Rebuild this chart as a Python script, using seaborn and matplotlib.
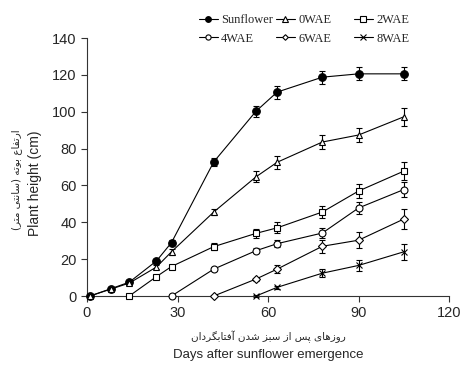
import numpy as np
import pandas as pd
import matplotlib
matplotlib.use("Agg")
import matplotlib.pyplot as plt
from matplotlib.lines import Line2D
import seaborn as sns

# ---------------- data ----------------
days = [1, 8, 14, 23, 28, 42, 56, 63, 78, 90, 105]

sunflower = [0, 4, 7.5, 19, 29, 72.8, 100.3, 110.7, 118.8, 120.6, 120.6]
sunflower_err = [0.5, 0.8, 1.0, 1.2, 1.5, 2.0, 3.0, 3.5, 3.5, 3.5, 3.5]

wae0 = [0, 3.8, 7, 15.7, 24, 45.6, 64.7, 72.6, 83.6, 87.4, 97.3]
wae0_err = [0.5, 0.8, 1.0, 1.2, 1.5, 1.8, 3.0, 3.5, 4.0, 4.0, 5.0]

wae2_days = [14, 23, 28, 42, 56, 63, 78, 90, 105]
wae2 = [0, 10.5, 16, 26.8, 34, 37, 45.6, 57, 67.8]
wae2_err = [0.3, 0.8, 1.0, 2.0, 2.5, 3.0, 3.5, 4.0, 5.0]

wae4_days = [28, 42, 56, 63, 78, 90, 105]
wae4 = [0, 14.6, 24.6, 28.4, 34.2, 47.8, 57.8]
wae4_err = [0.3, 0.8, 1.2, 2.0, 2.8, 3.2, 4.0]

wae6_days = [42, 56, 63, 78, 90, 105]
wae6 = [0, 9.2, 14.6, 27, 30.3, 41.8]
wae6_err = [0.3, 0.8, 2.0, 3.5, 4.5, 5.5]

wae8_days = [56, 63, 78, 90, 105]
wae8 = [0, 4.7, 12.4, 16.6, 24]
wae8_err = [0.3, 0.8, 2.2, 3.0, 4.5]

labels = ["Sunflower", "0WAE", "2WAE", "4WAE", "6WAE", "8WAE"]
x_ticks = [0, 30, 60, 90, 120]
y_ticks = [0, 20, 40, 60, 80, 100, 120, 140]

ylabel_fa = "ارتفاع بوته (سانتی متر)"
xlabel_fa = "روزهای پس از سبز شدن آفتابگردان"

# ---------------- simple Persian shaping ----------------
FORMS = {
    "\u0627": ("\uFE8D", "\uFE8E", None, None),
    "\u0622": ("\uFE81", "\uFE82", None, None),
    "\u0631": ("\uFEAD", "\uFEAE", None, None),
    "\u0632": ("\uFEAF", "\uFEB0", None, None),
    "\u062F": ("\uFEA9", "\uFEAA", None, None),
    "\u0648": ("\uFEED", "\uFEEE", None, None),
    "\u062A": ("\uFE95", "\uFE96", "\uFE97", "\uFE98"),
    "\u0628": ("\uFE8F", "\uFE90", "\uFE91", "\uFE92"),
    "\u067E": ("\uFB56", "\uFB57", "\uFB58", "\uFB59"),
    "\u0641": ("\uFED1", "\uFED2", "\uFED3", "\uFED4"),
    "\u0639": ("\uFEC9", "\uFECA", "\uFECB", "\uFECC"),
    "\u0647": ("\uFEE9", "\uFEEA", "\uFEEB", "\uFEEC"),
    "\u0633": ("\uFEB1", "\uFEB2", "\uFEB3", "\uFEB4"),
    "\u0634": ("\uFEB5", "\uFEB6", "\uFEB7", "\uFEB8"),
    "\u0646": ("\uFEE5", "\uFEE6", "\uFEE7", "\uFEE8"),
    "\u0645": ("\uFEE1", "\uFEE2", "\uFEE3", "\uFEE4"),
    "\u06CC": ("\uFBFC", "\uFBFD", "\uFBFE", "\uFBFF"),
    "\u06AF": ("\uFB92", "\uFB93", "\uFB94", "\uFB95"),
}
MIRROR = {"(": ")", ")": "("}


def shape(text):
    out = []
    n = len(text)
    for i, ch in enumerate(text):
        if ch not in FORMS:
            out.append(MIRROR.get(ch, ch))
            continue
        iso, fin, ini, med = FORMS[ch]
        prev = text[i - 1] if i > 0 else ""
        nxt = text[i + 1] if i + 1 < n else ""
        join_prev = prev in FORMS and FORMS[prev][2] is not None
        join_next = nxt in FORMS and ini is not None
        if join_prev and join_next:
            out.append(med)
        elif join_prev:
            out.append(fin)
        elif join_next:
            out.append(ini)
        else:
            out.append(iso)
    return "".join(out[::-1])


# ---------------- plot ----------------
sns.set_style("ticks")
plt.rcParams["font.family"] = ["Liberation Sans", "DejaVu Sans"]

fig = plt.figure(figsize=(4.64, 3.70), dpi=100)
ax = fig.add_axes([0.1875, 0.2, 0.7805, 0.697])

series = [
    (days, sunflower, sunflower_err, "Sunflower", "o", "black", 5.5),
    (days, wae0, wae0_err, "0WAE", "^", "white", 5),
    (wae2_days, wae2, wae2_err, "2WAE", "s", "white", 5),
    (wae4_days, wae4, wae4_err, "4WAE", "o", "white", 5),
    (wae6_days, wae6, wae6_err, "6WAE", "D", "white", 3.8),
    (wae8_days, wae8, wae8_err, "8WAE", "x", "black", 5),
]

handles = {}
for d, v, e, lab, mk, fc, ms in series:
    ax.errorbar(d, v, yerr=e, fmt="none", ecolor="black", elinewidth=0.8,
                capsize=2.2, capthick=0.8, zorder=2, clip_on=False)
    df = pd.DataFrame({"day": d, "height": v})
    sns.lineplot(data=df, x="day", y="height", ax=ax, color="black",
                 linewidth=0.8, marker=mk, markersize=ms,
                 markerfacecolor=fc, markeredgecolor="black",
                 markeredgewidth=0.8, zorder=3, clip_on=False, legend=False)
    handles[lab] = ax.lines[-1]

ax.set_xlim(0, 120)
ax.set_ylim(0, 140)
ax.set_xticks(x_ticks)
ax.set_yticks(y_ticks)
ax.tick_params(axis="both", labelsize=10.5, length=4, width=0.8,
               color="#333333", direction="out")
for s in ["left", "bottom"]:
    ax.spines[s].set_linewidth(0.8)
    ax.spines[s].set_color("#333333")
sns.despine(ax=ax)
ax.set_xlabel("")
ax.set_ylabel("")

# axis titles
fig.text(35 / 464, 1 - 183 / 370, "Plant height (cm)", rotation=90,
         ha="center", va="center", fontsize=10)
fig.text(17 / 464, 1 - 180 / 370, shape(ylabel_fa), rotation=90,
         ha="center", va="center", fontsize=7.5, family=["DejaVu Sans"])
fig.text(268 / 464, 1 - 337 / 370, shape(xlabel_fa), ha="center",
         va="center", fontsize=7.5, family=["DejaVu Sans"])
fig.text(268 / 464, 1 - 355 / 370, "Days after sunflower emergence",
         ha="center", va="center", fontsize=9.5)

# legend: three equal-width columns, as in the reference
columns = [["Sunflower", "4WAE"], ["0WAE", "6WAE"], ["2WAE", "8WAE"]]
col_left = [199, 276, 354]
for col, xl in zip(columns, col_left):
    hs = []
    for lab in col:
        h = handles[lab]
        hs.append(Line2D([], [], color="black", linewidth=0.8,
                         marker=h.get_marker(),
                         markersize=h.get_markersize() * 0.75,
                         markerfacecolor=h.get_markerfacecolor(),
                         markeredgecolor="black", markeredgewidth=0.8))
    leg = fig.legend(hs, col, ncol=1, frameon=False,
                     loc="upper left", bbox_to_anchor=(xl / 464, 1 - 14 / 370),
                     prop={"family": "Liberation Serif", "size": 8.9},
                     handlelength=1.5, handletextpad=0.3,
                     labelspacing=0.55, borderpad=0, borderaxespad=0)

fig.savefig("out.png", dpi=100)
